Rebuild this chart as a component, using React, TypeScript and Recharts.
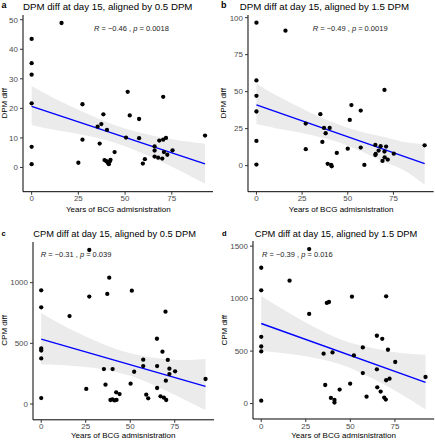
import React from 'react';
import { ComposedChart, Scatter, Line, Area, XAxis, YAxis } from 'recharts';

const FONT = '"Liberation Sans", Arial, Helvetica, sans-serif';
const xTicks = [0, 25, 50, 75];
const xDomain: [number, number] = [-4.62, 97.05];

// ---- Panel a: DPM diff, aligned by 0.5 DPM
const aX = [0, 0, 0, 0, 0, 0, 16, 25, 27.2, 27.2, 35.3, 36.4, 37.3, 38.4, 39, 40.3, 40, 40.8, 41.3, 41.8, 42.2, 44.4, 50.5, 51.4, 52.5, 57.5, 57.5, 59.5, 60.6, 65.8, 65.8, 65.8, 68.3, 67.7, 69.9, 70.4, 70.4, 70.8, 71.9, 72.6, 75.4, 92.8];
const aY = [43.5, 35.3, 31.4, 21.7, 7.0, 1.1, 48.9, 1.6, 21.4, 9.4, 13.8, 8.1, 14.7, 18.0, 2.5, 12.7, 2.1, 1.6, 1.1, 2.0, 2.6, 5.2, 10.1, 25.6, 17.6, 16.4, 9.9, 1.3, 2.8, 7.1, 5.7, 3.7, 9.1, 3.3, 3.0, 23.9, 9.4, 5.2, 10.0, 4.3, 5.8, 10.8];
const aTicks = [0, 10, 20, 30, 40, 50];
const aBandX = [0, 10, 20, 30, 40, 50, 60, 70, 80, 92.8];
const aBandLow = [14.4, 13.0, 11.9, 10.7, 9.2, 7.2, 4.6, 1.8, -1.3, -5.5];
const aBandHigh = [27.6, 24.1, 21.0, 18.1, 15.4, 13.2, 11.5, 10.1, 9.0, 8.0];
const aFitX = [0, 92.8];
const aFitY = [20.7, 1.2];

// ---- Panel b: DPM diff, aligned by 1.5 DPM
const bX = [0, 0, 0, 0, 0, 0, 15.9, 27, 27, 35, 36.1, 37, 37.9, 39, 40.1, 40.9, 41.2, 44, 50, 51.1, 52, 57.1, 57.1, 59.1, 65.1, 65.1, 65.3, 66.9, 68, 69, 70.1, 70.1, 70.2, 71, 71.9, 75.2, 92.1];
const bY = [96.6, 57.6, 47.2, 36.6, 16.7, 0.7, 91.2, 28.4, 11.1, 34.8, 16.0, 25.5, 21.9, 1.2, 25.5, 0.5, -0.4, 8.6, 11.5, 30.9, 40.9, 37.2, 12.2, 0.5, 14.0, 7.2, 7.9, 10.2, 13.1, 3.2, 51.2, 9.5, 5.6, 12.9, 4.1, 8.1, 13.7];
const bTicks = [0, 25, 50, 75, 100];
const bBandX = [0, 10, 20, 30, 40, 50, 60, 70, 80, 92.1];
const bBandLow = [28.2, 25.5, 23.3, 20.7, 17.6, 13.5, 8.3, 2.4, -2.6, -12.9];
const bBandHigh = [55.3, 48.1, 41.7, 35.6, 30.1, 25.6, 22.1, 19.3, 16.2, 14.7];
const bFitX = [0, 92.1];
const bFitY = [41.1, 1.35];

// ---- Panel c: CPM diff, aligned by 0.5 DPM
const cX = [0, 0, 0, 0, 0, 0, 15.9, 25.3, 27, 27, 35.2, 36.1, 37.1, 38.2, 38.9, 40, 40.1, 41.2, 42.3, 42.1, 44, 50.2, 50.9, 52.2, 57.3, 57.3, 59, 60.1, 65, 65.1, 65.1, 67, 68.1, 68.9, 69.8, 70, 70.2, 71.1, 72, 72, 75.2, 92.3];
const cY = [937, 797, 458, 440, 376, 49, 725, 124, 885, 1269, 288, 159, 907, 1041, 33, 38, 288, 30, 34, 96, 82, 168, 934, 266, 365, 313, 77, 47, 538, 313, 132, 63, 431, 52, 761, 192, 33, 363, 291, 247, 269, 206];
const cTicks = [0, 500, 1000];
const cBandX = [0, 10, 20, 30, 40, 50, 60, 70, 80, 92.3];
const cBandLow = [325, 322, 312, 296, 271, 232, 177, 111, 39, -50];
const cBandHigh = [750, 666, 591, 523, 463, 418, 388, 370, 362, 370];
const cFitX = [0, 92.3];
const cFitY = [535, 146];

// ---- Panel d: CPM diff, aligned by 1.5 DPM
const dX = [0, 0, 0, 0, 0, 0, 15.9, 26.9, 26.9, 35, 35.9, 36.8, 38, 39.1, 40, 41.1, 41.1, 44, 49.9, 50.9, 52, 57, 57, 59.1, 64.9, 64.9, 65.1, 67, 67.9, 69, 69.9, 70.1, 70.1, 71.1, 72, 75.2, 92.2];
const dY = [1294, 1079, 636, 544, 497, 28, 1171, 1472, 854, 475, 177, 959, 968, 54, 487, 35, 9, 133, 190, 1019, 459, 535, 291, 66, 646, 326, 155, 114, 617, 57, 38, 1022, 222, 513, 237, 396, 253];
const dTicks = [0, 500, 1000, 1500];
const dBandX = [0, 10, 20, 30, 40, 50, 60, 70, 80, 92.2];
const dBandLow = [503, 484, 462, 434, 395, 338, 257, 172, 74, -57];
const dBandHigh = [1025, 921, 821, 727, 645, 580, 539, 503, 479, 465];
const dFitX = [0, 92.2];
const dFitY = [763, 202];

type Box = { l: number; r: number; t: number; b: number };

const Dot = (props: any) => {
  const { cx, cy } = props;
  if (cx == null || cy == null) return null;
  return <circle cx={cx} cy={cy} r={2.15} fill="#000" />;
};

function Panel(p: {
  box: Box;
  yDomain: [number, number];
  yTicks: number[];
  xs: number[];
  ys: number[];
  bandX: number[];
  bandLow: number[];
  bandHigh: number[];
  fitX: number[];
  fitY: number[];
}) {
  const { box } = p;
  const points = p.xs.map((x, i) => ({ x, y: p.ys[i] }));
  const band = p.bandX.map((x, i) => ({ x, band: [p.bandLow[i], p.bandHigh[i]] }));
  const fit = p.fitX.map((x, i) => ({ x, fit: p.fitY[i] }));
  const W = box.r - box.l + 32;
  const H = box.b - box.t + 25;
  const tickStyle = { fontSize: 8, fill: '#4D4D4D', fontFamily: FONT };
  return (
    <div style={{ position: 'absolute', left: box.l - 30, top: box.t - 5 }}>
      <ComposedChart width={W} height={H} data={band} margin={{ top: 5, right: 2, bottom: 0, left: 0 }}>
        <XAxis
          type="number"
          dataKey="x"
          domain={xDomain}
          ticks={xTicks}
          interval={0}
          height={20}
          tickSize={3}
          tickMargin={1}
          tick={tickStyle}
          axisLine={{ stroke: '#000', strokeWidth: 1 }}
          tickLine={{ stroke: '#333' }}
          allowDataOverflow
        />
        <YAxis
          type="number"
          domain={p.yDomain}
          ticks={p.yTicks}
          interval={0}
          width={30}
          tickSize={3}
          tickMargin={2}
          tick={tickStyle}
          axisLine={{ stroke: '#000', strokeWidth: 1 }}
          tickLine={{ stroke: '#333' }}
          allowDataOverflow
        />
        <Area
          dataKey="band"
          type="monotone"
          stroke="none"
          fill="#EBEBEB"
          fillOpacity={1}
          isAnimationActive={false}
          activeDot={false}
        />
        <Scatter data={points} dataKey="y" shape={Dot} isAnimationActive={false} />
        <Line
          data={fit}
          dataKey="fit"
          type="linear"
          stroke="#0000FF"
          strokeWidth={1.4}
          dot={false}
          activeDot={false}
          isAnimationActive={false}
        />
      </ComposedChart>
    </div>
  );
}

const boxA: Box = { l: 23.3, r: 213.3, t: 15, b: 191.7 };
const boxB: Box = { l: 248.3, r: 434, t: 15, b: 191.7 };
const boxC: Box = { l: 32.7, r: 213.7, t: 241.5, b: 419.3 };
const boxD: Box = { l: 253, r: 434.2, t: 241.3, b: 419.3 };

function Cor({ x, y, r, p }: { x: number; y: number; r: string; p: string }) {
  return (
    <text x={x} y={y} fontSize={7.5} fill="#222" fontFamily={FONT}>
      <tspan fontStyle="italic">R</tspan>
      {` = ${r} , `}
      <tspan fontStyle="italic">p</tspan>
      {` = ${p}`}
    </text>
  );
}

function YTitle({ x, box, label }: { x: number; box: Box; label: string }) {
  const cy = (box.t + box.b) / 2;
  return (
    <text x={x} y={cy} transform={`rotate(-90 ${x} ${cy})`} textAnchor="middle" fontSize={8} fill="#000" fontFamily={FONT}>
      {label}
    </text>
  );
}

function XTitle({ y, box }: { y: number; box: Box }) {
  return (
    <text x={(box.l + box.r) / 2} y={y} textAnchor="middle" fontSize={8} fill="#000" fontFamily={FONT}>
      Years of BCG admisnistration
    </text>
  );
}

export default function App() {
  return (
    <div style={{ position: 'absolute', left: 0, top: 0, width: 435, height: 440, background: '#fff', overflow: 'hidden' }}>
      <Panel box={boxA} yDomain={[-8.2, 51.6]} yTicks={aTicks} xs={aX} ys={aY} bandX={aBandX} bandLow={aBandLow} bandHigh={aBandHigh} fitX={aFitX} fitY={aFitY} />
      <Panel box={boxB} yDomain={[-17.6, 101.8]} yTicks={bTicks} xs={bX} ys={bY} bandX={bBandX} bandLow={bBandLow} bandHigh={bBandHigh} fitX={bFitX} fitY={bFitY} />
      <Panel box={boxC} yDomain={[-130, 1335]} yTicks={cTicks} xs={cX} ys={cY} bandX={cBandX} bandLow={cBandLow} bandHigh={cBandHigh} fitX={cFitX} fitY={cFitY} />
      <Panel box={boxD} yDomain={[-147, 1549]} yTicks={dTicks} xs={dX} ys={dY} bandX={dBandX} bandLow={dBandLow} bandHigh={dBandHigh} fitX={dFitX} fitY={dFitY} />
      <svg width={435} height={440} style={{ position: 'absolute', left: 0, top: 0, pointerEvents: 'none' }}>
        <text x={1.5} y={8.3} fontSize={9} fontWeight="bold" fontFamily={FONT}>a</text>
        <text x={221} y={8.3} fontSize={9} fontWeight="bold" fontFamily={FONT}>b</text>
        <text x={1.5} y={235.5} fontSize={7.5} fontWeight="bold" fontFamily={FONT}>c</text>
        <text x={222} y={235.5} fontSize={7.5} fontWeight="bold" fontFamily={FONT}>d</text>

        <text x={23} y={10} fontSize={9.7} fill="#000" fontFamily={FONT}>DPM diff at day 15, aligned by 0.5 DPM</text>
        <text x={239.7} y={10} fontSize={9.7} fill="#000" fontFamily={FONT}>DPM diff at day 15, aligned by 1.5 DPM</text>
        <text x={33.3} y={237} fontSize={9.3} fill="#000" fontFamily={FONT}>CPM diff at day 15, aligned by 0.5 DPM</text>
        <text x={254.7} y={237} fontSize={9.3} fill="#000" fontFamily={FONT}>CPM diff at day 15, aligned by 1.5 DPM</text>

        <Cor x={94} y={31} r="−0.46" p="0.0018" />
        <Cor x={312.7} y={31} r="−0.49" p="0.0019" />
        <Cor x={40.7} y={256.8} r="−0.31" p="0.039" />
        <Cor x={262} y={257} r="−0.39" p="0.016" />

        <YTitle x={7.3} box={boxA} label="DPM diff" />
        <YTitle x={226.3} box={boxB} label="DPM diff" />
        <YTitle x={7.1} box={boxC} label="CPM diff" />
        <YTitle x={227.4} box={boxD} label="CPM diff" />

        <XTitle y={211.5} box={boxA} />
        <XTitle y={211.5} box={boxB} />
        <XTitle y={438.3} box={boxC} />
        <XTitle y={438.3} box={boxD} />
      </svg>
    </div>
  );
}
